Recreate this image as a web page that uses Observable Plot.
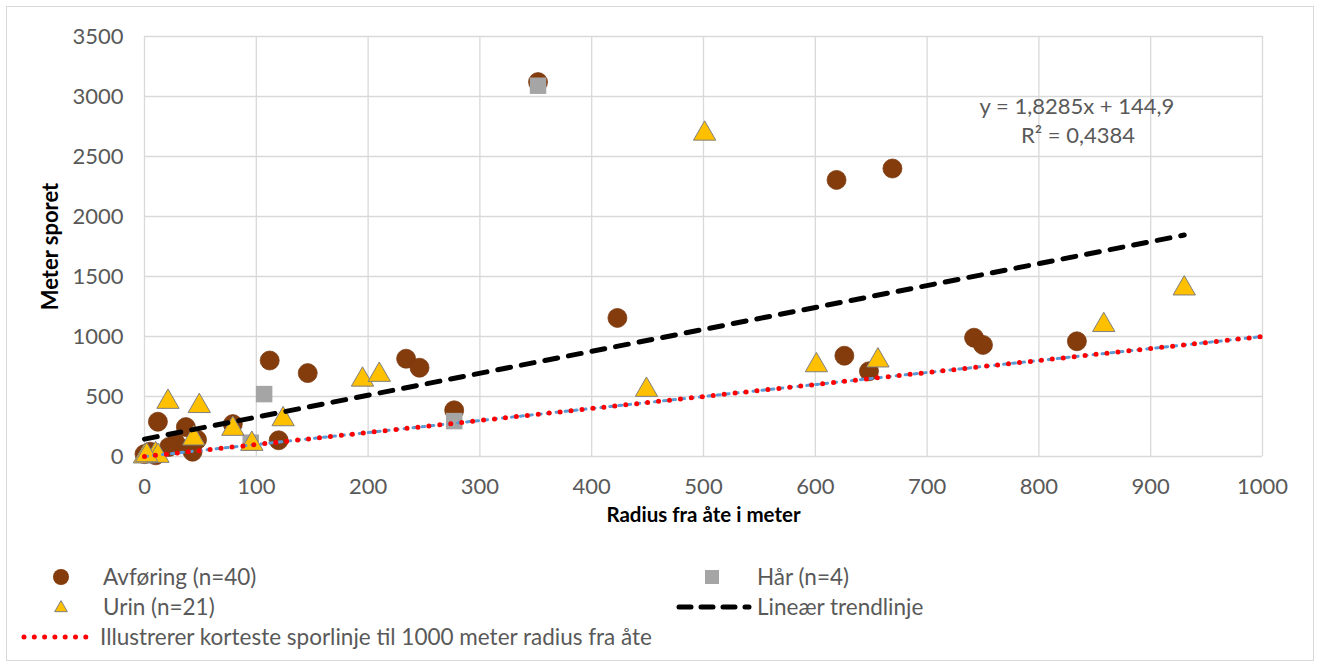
<!DOCTYPE html>
<html>
<head>
<meta charset="utf-8">
<script src="https://cdn.jsdelivr.net/npm/d3@7"></script>
<script src="https://cdn.jsdelivr.net/npm/@observablehq/plot@0.6"></script>
<style>
  body { margin: 0; background: #fff; }
  #wrap { position: relative; width: 1319px; height: 666px; font-family: Lato, "Liberation Sans", sans-serif; }
  #border { position: absolute; left: 6px; top: 6px; width: 1306px; height: 653px; border: 1px solid #d9d9d9; }
  #chart { position: absolute; left: 0; top: 0; }
  #legend { position: absolute; left: 0; top: 546px; }
</style>
</head>
<body>
<div id="wrap"><div id="border"></div><div id="chart"></div><svg id="legend" width="1319" height="110"></svg></div>
<script>
// ---- data ----
const xTicks = [0, 100, 200, 300, 400, 500, 600, 700, 800, 900, 1000];
const yTicks = [0, 500, 1000, 1500, 2000, 2500, 3000, 3500];

const avforingX = [352, 619, 669, 423, 742, 750, 834, 626, 648, 112, 146, 234, 246, 277, 120, 12, 37, 79, 47, 43, 28, 22, 0, 5, 10, 42];
const avforingY = [3120, 2305, 2400, 1155, 990, 930, 960, 840, 710, 800, 695, 815, 740, 385, 135, 290, 245, 270, 140, 40, 110, 80, 20, 40, 10, 65];

const harX = [352, 107, 95, 277];
const harY = [3090, 520, 115, 295];

const urinX = [501, 930, 858, 601, 656, 449, 195, 210, 124, 96, 79, 21, 49, 44, 0, 10, 12, 2];
const urinY = [2690, 1400, 1095, 760, 800, 555, 640, 680, 310, 105, 230, 455, 420, 150, 0, 20, 5, 10];

const trendSlope = 1.8285, trendIntercept = 144.9;
const trendXRange = [0, 930];

const refX = [0, 1000];
const refY = [0, 1000];

const eqLines = ["y = 1,8285x + 144,9", "R² = 0,4384"];
const eqX = [834, 835];
const eqY = [2910, 2675];

const legendLabels = ["Avføring (n=40)", "Hår (n=4)", "Urin (n=21)", "Lineær trendlinje", "Illustrerer korteste sporlinje til 1000 meter radius fra åte"];
const xTitle = "Radius fra åte i meter";
const yTitle = "Meter sporet";

// ---- build tables ----
const avf = avforingX.map((x, i) => ({x, y: avforingY[i]}));
const har = harX.map((x, i) => ({x, y: harY[i]}));
const urin = urinX.map((x, i) => ({x, y: urinY[i]}));
const trend = trendXRange.map(x => ({x, y: trendSlope * x + trendIntercept}));
const ref = refX.map((x, i) => ({x, y: refY[i]}));
const eq = eqLines.map((t, i) => ({t, x: eqX[i], y: eqY[i]}));

const FONT = "Lato, 'Liberation Sans', sans-serif";
const GREY = "#595959";
const FS = 22;

const chart = Plot.plot({
  width: 1319,
  height: 546,
  marginLeft: 144,
  marginRight: 57,
  marginTop: 36,
  marginBottom: 90,
  style: {fontFamily: FONT, fontSize: FS + "px", background: "transparent"},
  x: {domain: [0, 1000]},
  y: {domain: [0, 3500]},
  marks: [
    Plot.gridX(xTicks, {stroke: "#d9d9d9", strokeOpacity: 1, strokeWidth: 1.3}),
    Plot.gridY(yTicks, {stroke: "#d9d9d9", strokeOpacity: 1, strokeWidth: 1.3}),
    Plot.axisX(xTicks, {tickSize: 0, tickPadding: 22, fill: GREY, label: null, fontSize: FS, tickFormat: d => String(d)}),
    Plot.axisY(yTicks, {tickSize: 0, tickPadding: 21, fill: GREY, label: null, fontSize: FS, tickFormat: d => String(d)}),
    Plot.text([xTitle], {frameAnchor: "bottom", dy: 65, fontWeight: "bold", fontSize: 20.5, fill: "#000"}),
    Plot.text([yTitle], {frameAnchor: "left", textAnchor: "middle", dx: -94, rotate: -90, fontWeight: "bold", fontSize: 22, fill: "#000"}),
    Plot.text(eq, {x: "x", y: "y", text: "t", fontSize: FS, fill: GREY}),
    Plot.dot(avf, {x: "x", y: "y", r: 9.5, fill: "#843c0c", stroke: "#7b3a10", strokeWidth: 0.75}),
    Plot.dot(har, {x: "x", y: "y", symbol: "square", r: 9.3, fill: "#a5a5a5"}),
    Plot.dot(urin, {x: "x", y: "y", symbol: "triangle", r: 8.3, fill: "#ffc000", stroke: "#7f7f7f", strokeWidth: 1}),
    Plot.line(trend, {x: "x", y: "y", stroke: "#000", strokeWidth: 5, strokeDasharray: "13,11", strokeLinecap: "round"}),
    Plot.line(ref, {x: "x", y: "y", stroke: "#5b9bd5", strokeWidth: 3, strokeDasharray: "3,6"}),
    Plot.line(ref, {x: "x", y: "y", stroke: "#ff0000", strokeWidth: 5, strokeDasharray: "0,11", strokeLinecap: "round"})
  ]
});
document.getElementById("chart").appendChild(chart);

// ---- legend ----
const lg = d3.select("#legend");
const top0 = 546;
const rows = [577 - top0, 607 - top0, 637 - top0];
const LFS = 22.5;
const txt = (x, y, s) => lg.append("text").attr("x", x).attr("y", y).attr("dy", "0.35em")
  .attr("font-family", FONT).attr("font-size", LFS).attr("fill", GREY).text(s);

lg.append("circle").attr("cx", 61).attr("cy", rows[0]).attr("r", 8).attr("fill", "#843c0c");
txt(103, rows[0], legendLabels[0]);
lg.append("rect").attr("x", 705).attr("y", rows[0] - 7).attr("width", 14).attr("height", 14).attr("fill", "#a5a5a5");
txt(757, rows[0], legendLabels[1]);
lg.append("path").attr("d", d3.symbol(d3.symbolTriangle, 70)()).attr("transform", `translate(61,${rows[1] + 1})`)
  .attr("fill", "#ffc000").attr("stroke", "#7f7f7f").attr("stroke-width", 1);
txt(103, rows[1], legendLabels[2]);
lg.append("line").attr("x1", 679).attr("x2", 749).attr("y1", rows[1]).attr("y2", rows[1])
  .attr("stroke", "#000").attr("stroke-width", 5).attr("stroke-dasharray", "12,10").attr("stroke-linecap", "round");
txt(757, rows[1], legendLabels[3]);
lg.append("line").attr("x1", 24).attr("x2", 96).attr("y1", rows[2]).attr("y2", rows[2])
  .attr("stroke", "#ff0000").attr("stroke-width", 5).attr("stroke-dasharray", "0,10.3").attr("stroke-linecap", "round");
txt(100, rows[2], legendLabels[4]);
</script>
</body>
</html>
